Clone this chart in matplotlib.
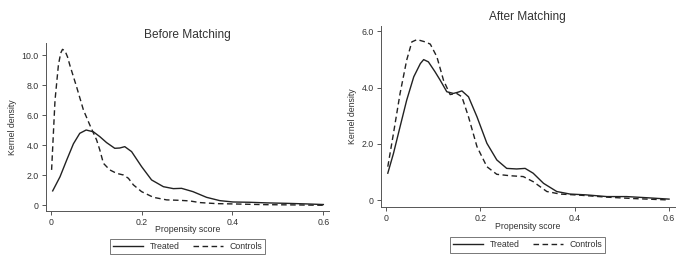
import matplotlib
matplotlib.use("Agg")
import matplotlib.pyplot as plt

plt.rcParams["font.family"] = ["Liberation Sans", "DejaVu Sans"]

# Before matching (propensity score, kernel density)
before_treated_x = [0.0044, 0.0205, 0.035, 0.05, 0.064, 0.078, 0.094, 0.108, 0.123, 0.141,
                    0.152, 0.163, 0.178, 0.2, 0.222, 0.248, 0.27, 0.288, 0.313, 0.343, 0.372,
                    0.401, 0.438, 0.475, 0.519, 0.563, 0.6]
before_treated_y = [0.96, 1.9, 3.0, 4.1, 4.8, 5.02, 4.9, 4.58, 4.18, 3.8,
                    3.82, 3.91, 3.58, 2.58, 1.69, 1.24, 1.11, 1.13, 0.91, 0.53, 0.31,
                    0.22, 0.2, 0.16, 0.13, 0.09, 0.05]
before_controls_x = [0.002, 0.0095, 0.017, 0.022, 0.026, 0.0315, 0.037, 0.042, 0.057, 0.072,
                     0.086, 0.101, 0.108, 0.116, 0.13, 0.145, 0.16, 0.171, 0.182, 0.2, 0.226,
                     0.255, 0.284, 0.306, 0.328, 0.365, 0.4, 0.475, 0.548, 0.6]
before_controls_y = [2.36, 7.0, 9.36, 10.15, 10.4, 10.3, 9.9, 9.36, 7.9, 6.36,
                     5.36, 4.36, 3.7, 2.8, 2.36, 2.13, 2.02, 1.8, 1.36, 0.91, 0.53,
                     0.36, 0.33, 0.29, 0.18, 0.11, 0.09, 0.04, 0.02, 0.0]

# After matching
after_treated_x = [0.004, 0.016, 0.03, 0.044, 0.059, 0.073, 0.08, 0.09, 0.104, 0.115,
                   0.129, 0.143, 0.152, 0.161, 0.175, 0.193, 0.214, 0.235, 0.256, 0.277,
                   0.295, 0.312, 0.334, 0.362, 0.39, 0.425, 0.468, 0.51, 0.552, 0.6]
after_treated_y = [0.96, 1.66, 2.61, 3.55, 4.38, 4.85, 4.99, 4.91, 4.56, 4.26,
                   3.85, 3.79, 3.83, 3.88, 3.67, 2.96, 2.02, 1.43, 1.13, 1.11,
                   1.13, 0.96, 0.6, 0.31, 0.22, 0.19, 0.13, 0.13, 0.09, 0.04]
after_controls_x = [0.004, 0.016, 0.03, 0.044, 0.055, 0.066, 0.083, 0.094, 0.108, 0.122,
                    0.136, 0.15, 0.161, 0.175, 0.193, 0.214, 0.235, 0.263, 0.291, 0.312,
                    0.341, 0.369, 0.411, 0.468, 0.524, 0.6]
after_controls_y = [1.19, 2.37, 3.79, 4.97, 5.62, 5.7, 5.62, 5.54, 5.09, 4.26,
                    3.75, 3.79, 3.67, 2.96, 1.9, 1.19, 0.92, 0.87, 0.84, 0.66,
                    0.31, 0.22, 0.18, 0.11, 0.06, 0.01]

x_ticks = [0, 0.2, 0.4, 0.6]
x_tick_labels = ["0", "0.2", "0.4", "0.6"]
before_y_ticks = [0, 2, 4, 6, 8, 10]
before_y_labels = ["0", "2.0", "4.0", "6.0", "8.0", "10.0"]
after_y_ticks = [0, 2, 4, 6]
after_y_labels = ["0", "2.0", "4.0", "6.0"]

txt = "#333333"
line_col = "#222222"

fig = plt.figure(figsize=(6.85, 2.66), dpi=100)
ax1 = fig.add_axes([0.0667, 0.208, 0.4133, 0.629])
ax2 = fig.add_axes([0.5558, 0.2207, 0.4292, 0.6813])


def style(ax, xs_t, ys_t, xs_c, ys_c, yt, yl, ylim, title, title_y, xlab_y, leg_xy):
    ax.plot(xs_t, ys_t, color=line_col, lw=1.0, label="Treated")
    ax.plot(xs_c, ys_c, color=line_col, lw=1.0, ls=(0, (4, 2.5)), label="Controls")
    ax.set_xlim(-0.011, 0.612)
    ax.set_ylim(*ylim)
    ax.set_xticks(x_ticks)
    ax.set_xticklabels(x_tick_labels)
    ax.set_yticks(yt)
    ax.set_yticklabels(yl)
    for s in ["top", "right"]:
        ax.spines[s].set_visible(False)
    for s in ["left", "bottom"]:
        ax.spines[s].set_color("#555555")
        ax.spines[s].set_linewidth(0.7)
    ax.tick_params(length=3, width=0.7, color="#555555", labelsize=6.3,
                   labelcolor=txt, pad=2)
    ax.set_ylabel("Kernel density", fontsize=6.3, color=txt, labelpad=3)
    bb = ax.get_position()
    cx = (bb.x0 + bb.x1) / 2
    fig.text(cx, title_y, title, ha="center", va="center", fontsize=8.6, color=txt)
    fig.text(cx, xlab_y, "Propensity score", ha="center", va="center", fontsize=6.3, color=txt)
    leg = ax.legend(loc="center", bbox_to_anchor=leg_xy, bbox_transform=fig.transFigure,
                    ncol=2, fontsize=6.3, frameon=True, fancybox=False,
                    edgecolor="#555555", handlelength=3.5, columnspacing=1.5,
                    borderpad=0.35, handletextpad=0.7)
    leg.get_frame().set_linewidth(0.7)
    for t in leg.get_texts():
        t.set_color(txt)


style(ax1, before_treated_x, before_treated_y, before_controls_x, before_controls_y,
      before_y_ticks, before_y_labels, (-0.36, 10.8), "Before Matching", 0.868, 0.139,
      (0.2737, 0.0733))
style(ax2, after_treated_x, after_treated_y, after_controls_x, after_controls_y,
      after_y_ticks, after_y_labels, (-0.25, 6.18), "After Matching", 0.936, 0.150,
      (0.770, 0.079))

fig.savefig("out.png", dpi=100)
